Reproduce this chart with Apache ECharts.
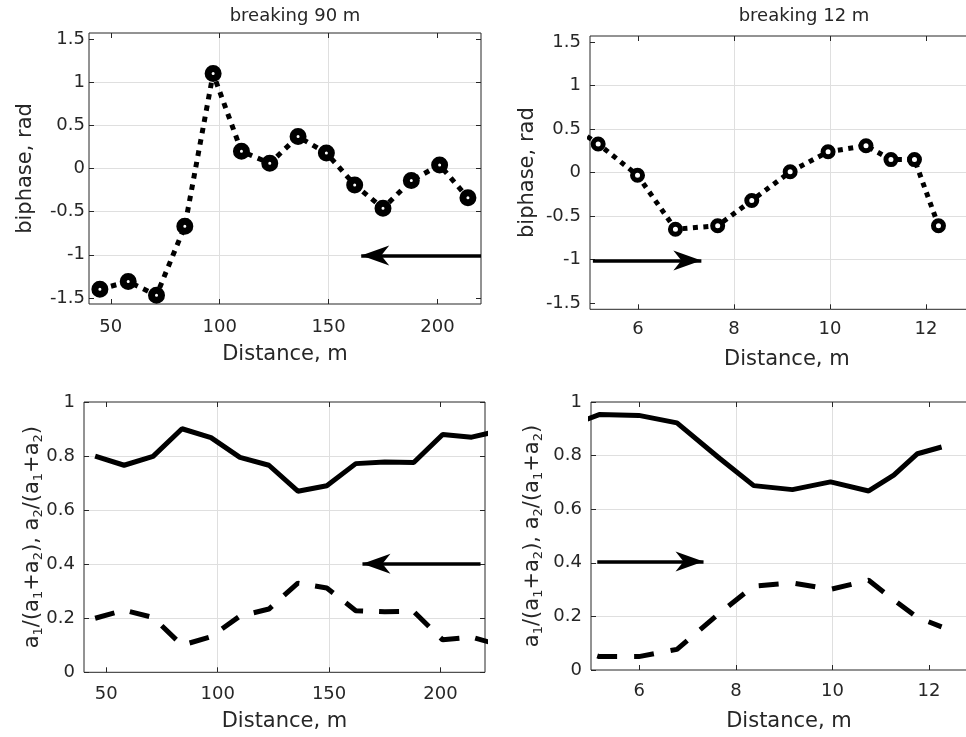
<!DOCTYPE html>
<html>
<head>
<meta charset="utf-8">
<script src="https://cdn.jsdelivr.net/npm/echarts@6/dist/echarts.min.js"></script>
<style>
  html, body { margin: 0; padding: 0; background: #fff; }
  #chart { width: 966px; height: 737px; }
</style>
</head>
<body>
<div id="chart"></div>
<script>
// distances of the measuring points, m (last/first point lies outside the axes and is clipped)
const dist90 = [45, 58, 71, 84, 97, 110, 123, 136, 149, 162, 175, 188, 201, 214, 227]
const biphase90 = [-1.40, -1.31, -1.47, -0.67, 1.10, 0.20, 0.06, 0.37, 0.18, -0.19, -0.46, -0.14, 0.04, -0.34]
const a1ratio90 = [0.800, 0.766, 0.799, 0.901, 0.868, 0.795, 0.766, 0.670, 0.690, 0.772, 0.778, 0.776, 0.880, 0.870, 0.895]
const a2ratio90 = [0.200, 0.230, 0.203, 0.100, 0.132, 0.208, 0.234, 0.330, 0.312, 0.228, 0.224, 0.225, 0.120, 0.130, 0.100]

const dist12 = [4.4, 5.17, 5.99, 6.78, 7.66, 8.37, 9.17, 9.96, 10.75, 11.27, 11.76, 12.26]
const biphase12 = [0.62, 0.33, -0.03, -0.65, -0.61, -0.32, 0.01, 0.24, 0.31, 0.15, 0.15, -0.61]
const a1ratio12 = [0.900, 0.953, 0.950, 0.922, 0.790, 0.688, 0.673, 0.702, 0.668, 0.727, 0.807, 0.832]
const a2ratio12 = [0.095, 0.050, 0.050, 0.077, 0.212, 0.313, 0.325, 0.301, 0.335, 0.261, 0.196, 0.161]

// tick values
const ticks90 = [50, 100, 150, 200]
const ticks12 = [6, 8, 10, 12]
const biphaseTicks = [-1.5, -1, -0.5, 0, 0.5, 1, 1.5]
const ratioTicks = [0, 0.2, 0.4, 0.6, 0.8, 1]

// direction arrows [x from, x to, y]
const arrowBiphase90 = [220, 165, -1.01]
const arrowBiphase12 = [5.06, 7.32, -1.01]
const arrowRatio90 = [218, 165, 0.402]
const arrowRatio12 = [5.13, 7.33, 0.405]

const titles = ['breaking 90 m', 'breaking 12 m']

const FONT = 'DejaVu Sans'
const TXT = '#262626'
const GRIDLINE = '#dfdfdf'
const ARROW = 'path://M0,0 L10,28 L0,20 L-10,28 Z'

const ratioName = '{m|a}{s|1}{m|/(a}{s|1}{m|+a}{s|2}{m|), a}{s|2}{m|/(a}{s|1}{m|+a}{s|2}{m|)}'

const panels = [
  { rect: { left: 89, top: 33, width: 392, height: 271 }, xMin: 40, xMax: 220, xTicks: ticks90,
    yMin: -Math.PI / 2, yMax: Math.PI / 2, yTicks: biphaseTicks, yName: 'biphase, rad',
    xMargin: 14, yMargin: 4, xGap: 40, yGap: 53 },
  { rect: { left: 590, top: 36, width: 393.6, height: 273.3 }, xMin: 5, xMax: 13.2, xTicks: ticks12,
    yMin: -Math.PI / 2, yMax: Math.PI / 2, yTicks: biphaseTicks, yName: 'biphase, rad',
    xMargin: 11, yMargin: 9, xGap: 40, yGap: 52 },
  { rect: { left: 84, top: 402, width: 401, height: 270.3 }, xMin: 40, xMax: 220, xTicks: ticks90,
    yMin: 0, yMax: 1, yTicks: ratioTicks, yName: ratioName,
    xMargin: 13, yMargin: 9, xGap: 39, yGap: 39 },
  { rect: { left: 591, top: 402, width: 396, height: 268 }, xMin: 5, xMax: 13.2, xTicks: ticks12,
    yMin: 0, yMax: 1, yTicks: ratioTicks, yName: ratioName,
    xMargin: 12, yMargin: 9, xGap: 41, yGap: 46 },
]

const tickStyle = (values) => ({ inside: true, length: 5, customValues: values, lineStyle: { color: TXT } })
const labelStyle = { color: TXT, fontSize: 18, fontFamily: FONT }
const nameStyle = {
  color: TXT, fontSize: 21, fontFamily: FONT,
  rich: {
    m: { fontSize: 21, fontFamily: FONT, color: TXT, lineHeight: 24, padding: [0, 0, 2, 0], verticalAlign: 'bottom' },
    s: { fontSize: 13, fontFamily: FONT, color: TXT, lineHeight: 13, verticalAlign: 'bottom' },
  },
}

const grid = []
const xAxis = []
const yAxis = []
panels.forEach((p, i) => {
  grid.push({ ...p.rect, show: true, borderColor: TXT, borderWidth: 1, outerBoundsMode: 'none' })
  const xb = { type: 'value', gridIndex: i, min: p.xMin, max: p.xMax, axisLine: { show: false, onZero: false } }
  xAxis.push({
    ...xb, position: 'bottom',
    axisTick: tickStyle(p.xTicks),
    axisLabel: { ...labelStyle, customValues: p.xTicks, margin: p.xMargin },
    splitLine: { show: true, showMinLine: false, showMaxLine: false, lineStyle: { color: GRIDLINE } },
    name: 'Distance, m', nameLocation: 'middle', nameGap: p.xGap, nameMoveOverlap: false,
    nameTextStyle: nameStyle,
  })
  xAxis.push({ ...xb, position: 'top', axisTick: tickStyle(p.xTicks), axisLabel: { show: false }, splitLine: { show: false } })
  const yb = { type: 'value', gridIndex: i, min: p.yMin, max: p.yMax, axisLine: { show: false, onZero: false } }
  yAxis.push({
    ...yb, position: 'left',
    axisTick: tickStyle(p.yTicks),
    axisLabel: { ...labelStyle, customValues: p.yTicks, margin: p.yMargin },
    splitLine: { show: true, showMinLine: false, showMaxLine: false, lineStyle: { color: GRIDLINE } },
    name: p.yName, nameLocation: 'middle', nameRotate: 90, nameGap: p.yGap, nameMoveOverlap: false,
    nameTextStyle: nameStyle,
  })
  yAxis.push({ ...yb, position: 'right', axisTick: tickStyle(p.yTicks), axisLabel: { show: false }, splitLine: { show: false } })
})

const pairs = (xs, ys) => ys.map((v, i) => [xs[i], v])

const arrowSeries = (i, a) => ({
  type: 'line', xAxisIndex: 2 * i, yAxisIndex: 2 * i, data: [],
  markLine: {
    silent: true, animation: false,
    symbol: ['none', ARROW], symbolSize: [20, 28], symbolOffset: [0, [0, 14]],
    label: { show: false },
    lineStyle: { color: '#000', width: 3.5, type: 'solid' },
    data: [[{ coord: [a[0], a[2]] }, { coord: [a[1], a[2]] }]],
  },
})

const biphaseSeries = (i, xs, ys, dash, size, border) => ({
  type: 'line', xAxisIndex: 2 * i, yAxisIndex: 2 * i, data: pairs(xs, ys),
  symbol: 'circle', symbolSize: size, showAllSymbol: true,
  itemStyle: { color: '#fff', borderColor: '#000', borderWidth: border },
  lineStyle: { color: '#000', width: 5, type: dash, cap: 'butt' },
})

const ratioSeries = (i, xs, ys, dash) => ({
  type: 'line', xAxisIndex: 2 * i, yAxisIndex: 2 * i, data: pairs(xs, ys),
  symbol: 'none',
  lineStyle: { color: '#000', width: 5, type: dash, cap: 'butt' },
})

const chart = echarts.init(document.getElementById('chart'))
chart.setOption({
  animation: false,
  backgroundColor: '#fff',
  grid, xAxis, yAxis,
  graphic: [
    { type: 'text', x: 295, y: 7, style: { text: titles[0], fontSize: 18, fontFamily: FONT, fill: TXT, align: 'center', verticalAlign: 'top' } },
    { type: 'text', x: 804, y: 7, style: { text: titles[1], fontSize: 18, fontFamily: FONT, fill: TXT, align: 'center', verticalAlign: 'top' } },
  ],
  series: [
    biphaseSeries(0, dist90, biphase90, [5.5, 6], 10, 7),
    biphaseSeries(1, dist12, biphase12, [5, 5.5], 10, 5),
    ratioSeries(2, dist90, a1ratio90, 'solid'),
    ratioSeries(2, dist90, a2ratio90, [20, 16]),
    ratioSeries(3, dist12, a1ratio12, 'solid'),
    ratioSeries(3, dist12, a2ratio12, [20, 17]),
    arrowSeries(0, arrowBiphase90),
    arrowSeries(1, arrowBiphase12),
    arrowSeries(2, arrowRatio90),
    arrowSeries(3, arrowRatio12),
  ],
})
</script>
</body>
</html>
